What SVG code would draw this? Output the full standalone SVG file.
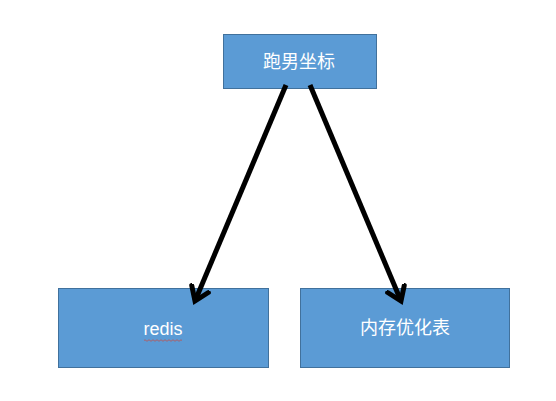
<svg xmlns="http://www.w3.org/2000/svg" width="556" height="401" viewBox="0 0 556 401">
<style>
.box{fill:#5B9BD5;stroke:#41719C;stroke-width:1}
.lbl{fill:#FFFFFF;font-family:"Liberation Sans","Noto Sans CJK SC",sans-serif;font-size:18px;text-anchor:middle;dominant-baseline:central}
.con{stroke:#000000;stroke-width:5;fill:none}
</style>
<defs>
<marker id="arr" markerUnits="userSpaceOnUse" markerWidth="30" markerHeight="30" viewBox="-15 -15 30 30" refX="0" refY="0" orient="auto">
<path d="M-13,-9 L0,0 L-13,9" fill="none" stroke="#000" stroke-width="5" stroke-linecap="round" stroke-linejoin="miter"/>
</marker>
</defs>
<rect width="556" height="401" fill="#FFFFFF"/>
<g id="node-top">
<rect class="box" x="223.5" y="34.5" width="153" height="54"/>
<text class="lbl" x="299" y="62">跑男坐标</text>
</g>
<g id="node-redis">
<rect class="box" x="58.5" y="288.5" width="210" height="79"/>
<text class="lbl" x="163" y="329">redis</text>
<path d="M144,340.5 q1,-1.5 2,0 t2,0 t2,0 t2,0 t2,0 t2,0 t2,0 t2,0 t2,0 t2,0 t2,0 t2,0 t2,0 t2,0 t2,0 t2,0 t2,0 t2,0 t2,0" fill="none" stroke="#C0504D" stroke-width="0.8"/>
</g>
<g id="node-mem">
<rect class="box" x="300.5" y="288.5" width="209" height="79"/>
<text class="lbl" x="405" y="328">内存优化表</text>
</g>
<g id="connectors">
<line class="con" x1="286" y1="85" x2="195" y2="301" marker-end="url(#arr)"/>
<line class="con" x1="310" y1="85" x2="401" y2="301" marker-end="url(#arr)"/>
</g>
</svg>
